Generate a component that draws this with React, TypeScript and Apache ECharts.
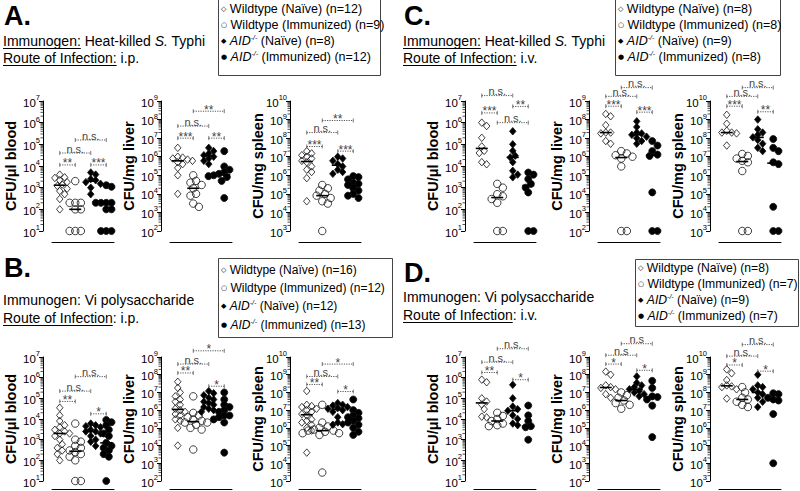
import { useEffect, useRef } from "react";
import * as echarts from "echarts";

const FONT = "'Liberation Sans', Arial, Helvetica, sans-serif";

// group order in every subplot: WT naive, WT immunized, AID-/- naive, AID-/- immunized
const groupNames = ["Wildtype (Naïve)", "Wildtype (Immunized)", "(Naïve)", "(Immunized)"];
const yNames = ["CFU/μl blood", "CFU/mg liver", "CFU/mg spleen"];
const yExpRanges = [[1, 7], [2, 9], [3, 10]];

// ---------- Panel A: heat-killed S. Typhi, i.p.
const aN = [12, 9, 8, 12];
const aBlood = [
  [4000, 3000, 2800, 2200, 1800, 1400, 1200, 900, 700, 500, 300, 100],
  [2000, 200, 200, 200, 100, 100, 10, 10, 10],
  [5000, 4000, 2500, 2200, 1800, 1500, 1000, 500],
  [1300, 1100, 200, 200, 200, 200, 200, 100, 100, 10, 10, 10],
];
const aLiver = [
  [3e6, 1e6, 9e5, 8e5, 7e5, 6e5, 6e5, 5e5, 4e5, 2.5e5, 1e5, 1e4],
  [1e5, 5e4, 4e4, 3e4, 2e4, 1e4, 8e3, 3e3, 2e3],
  [3e6, 2e6, 1.5e6, 1.2e6, 1e6, 8e5, 6e5, 4e5],
  [2e6, 3e5, 2e5, 1.5e5, 1.2e5, 1.1e5, 1e5, 1e5, 9e4, 8e4, 5e4, 6e3],
];
const aSpleen = [
  [2e7, 1.5e7, 1.2e7, 1e7, 8e6, 6e6, 5e6, 3e6, 2e6, 1.5e6, 7e5, 4e4],
  [3e5, 2e5, 1.5e5, 1e5, 8e4, 6e4, 4e4, 3e4, 1e3],
  [1e7, 8e6, 6e6, 4e6, 3e6, 2e6, 1.5e6, 1.2e6],
  [9e5, 8e5, 6e5, 4e5, 3.5e5, 3e5, 2.5e5, 2e5, 1.5e5, 1e5, 8e4, 6e4],
];
// [groupFrom, groupTo, label, log10 level]
const aBloodSig = [[0, 1, "**", 4.05], [0, 2, "n.s.", 4.6], [2, 3, "***", 4.05], [1, 3, "n.s.", 5.2]];
const aLiverSig = [[0, 1, "***", 7.0], [0, 2, "n.s.", 7.65], [2, 3, "**", 7.0], [1, 3, "**", 8.45]];
const aSpleenSig = [[0, 1, "***", 7.55], [0, 2, "n.s.", 8.3], [2, 3, "***", 7.3], [1, 3, "**", 8.95]];

// ---------- Panel B: Vi polysaccharide, i.p.
const bN = [16, 12, 12, 13];
const bBlood = [
  [3.5e4, 1.5e4, 8e3, 5e3, 4e3, 3e3, 2.5e3, 2e3, 2e3, 1.5e3, 1e3, 6e2, 4e2, 3e2, 2e2, 1e2],
  [6e3, 1e3, 8e2, 5e2, 4e2, 3e2, 2.5e2, 2e2, 1.5e2, 1e2, 10, 10],
  [6e3, 5e3, 4.5e3, 4e3, 3e3, 2.5e3, 2.5e3, 2e3, 1.5e3, 1e3, 8e2, 5e2],
  [9e3, 7e3, 5e3, 3e3, 2e3, 1.5e3, 7e2, 5e2, 4e2, 3e2, 2e2, 1.5e2, 10],
];
const bLiver = [
  [4e7, 1.8e7, 1e7, 6e6, 4e6, 3e6, 2e6, 1.2e6, 1e6, 8e5, 6e5, 5e5, 3e5, 2.5e5, 1e5, 1e4],
  [6e6, 7e5, 5e5, 4e5, 3e5, 2.5e5, 2e5, 2e5, 1.5e5, 1e5, 8e4, 6e3],
  [1.2e7, 9e6, 7e6, 5e6, 4e6, 3e6, 2.5e6, 2e6, 1.5e6, 1.2e6, 1e6, 8e5],
  [1e7, 4e6, 2e6, 1.5e6, 1e6, 8e5, 5e5, 5e5, 4.5e5, 4e5, 3e5, 2e5, 4e3],
];
const bSpleen = [
  [1.2e8, 2e7, 1.7e7, 1.5e7, 1.2e7, 1e7, 8e6, 6e6, 5e6, 3e6, 2.5e6, 2e6, 1.5e6, 1e6, 7e5, 4e4],
  [2e7, 2e6, 1.2e6, 1e6, 8e5, 7e5, 7e5, 6e5, 5e5, 5e5, 4e5, 3e3],
  [2.5e7, 2e7, 1.8e7, 1.5e7, 1.3e7, 1.2e7, 1e7, 8e6, 4e6, 2e6, 1.6e6, 1.5e6],
  [4e7, 1e7, 7e6, 5e6, 4e6, 3.5e6, 3e6, 2.5e6, 2e6, 1.5e6, 1e6, 6e5, 4e5],
];
const bBloodSig = [[0, 1, "**", 4.85], [0, 2, "n.s.", 5.35], [1, 3, "n.s.", 6.05], [2, 3, "*", 4.25]];
const bLiverSig = [[0, 1, "**", 8.1], [0, 2, "n.s.", 8.6], [1, 3, "*", 9.35], [2, 3, "*", 7.35]];
const bSpleenSig = [[0, 1, "**", 8.45], [0, 2, "n.s.", 8.9], [1, 3, "*", 9.6], [2, 3, "*", 8.05]];

// ---------- Panel C: heat-killed S. Typhi, i.v.
const cN = [8, 8, 9, 8];
const cBlood = [
  [1e6, 7e5, 2e5, 8e4, 5e4, 4e4, 1.5e4, 1.2e4],
  [1.5e3, 1e3, 5e2, 4e2, 3e2, 2e2, 10, 10],
  [4e5, 1e5, 5e4, 3e4, 2.5e4, 1.5e4, 6e3, 4e3, 3e3],
  [5e3, 4e3, 2.5e3, 1.5e3, 1e3, 6e2, 10, 10],
];
const cLiver = [
  [2e8, 1.5e8, 5e7, 2e7, 2e7, 1.8e7, 7e6, 5e6],
  [2e6, 1.5e6, 1.2e6, 1e6, 8e5, 3e5, 100, 100],
  [8e7, 4e7, 2e7, 1.8e7, 1.5e7, 1.2e7, 1e7, 7e6, 5e6],
  [7e6, 4e6, 2e6, 1.3e6, 1.1e6, 1.2e4, 100, 100],
];
const cSpleen = [
  [1.8e9, 6e8, 2.5e8, 2e8, 2e8, 1.8e8, 1.5e8, 4e7],
  [1.4e7, 1.1e7, 8e6, 6e6, 5e6, 1.7e6, 1e3, 1e3],
  [1e9, 3e8, 2e8, 1.5e8, 1.1e8, 8e7, 5e7, 3e7, 2e7],
  [9e7, 3e7, 2e7, 5e6, 4e6, 2e4, 1e3, 1e3],
];
const cBloodSig = [[0, 1, "***", 6.45], [1, 3, "n.s.", 6.0], [2, 3, "**", 6.75], [0, 2, "n.s.", 7.25]];
const cLiverSig = [[0, 1, "***", 8.72], [2, 3, "***", 8.4], [0, 2, "n.s.", 9.25], [1, 3, "n.s.", 9.72]];
const cSpleenSig = [[0, 1, "***", 9.72], [2, 3, "**", 9.42], [0, 2, "n.s.", 10.25], [1, 3, "n.s.", 10.72]];

// ---------- Panel D: Vi polysaccharide, i.v.
const dN = [8, 7, 9, 7];
const dBlood = [
  [8e5, 6e5, 1e5, 7e4, 5e4, 3e4, 1.3e4, 1.2e4],
  [2e4, 1.4e4, 1e4, 8e3, 6e3, 5e3, 4.5e3],
  [4.5e5, 1e5, 4e4, 3e4, 2.5e4, 1.5e4, 1e4, 6e3, 5e3],
  [4.5e4, 1.5e4, 8e3, 4.5e3, 4e3, 3.5e3, 1e3],
];
const dLiver = [
  [1.5e8, 1e8, 2.5e7, 2e7, 1.8e7, 1.5e7, 8e6, 5e6],
  [1e7, 7e6, 5e6, 3.5e6, 2.5e6, 2e6, 1.2e6],
  [8e7, 3.5e7, 2.5e7, 2e7, 1.5e7, 1.2e7, 1e7, 8e6, 6e6],
  [4.5e7, 1.8e7, 6e6, 5.5e6, 4e6, 1.8e6, 3e4],
];
const dSpleen = [
  [2e9, 1.2e9, 5e8, 2.5e8, 2.2e8, 2e8, 1.5e8, 4.5e7],
  [2e8, 1e8, 5e7, 4e7, 3e7, 2e7, 1.5e7],
  [1e9, 2.5e8, 2e8, 1.5e8, 1e8, 8e7, 5e7, 3e7, 1.5e7],
  [9e7, 8e7, 5e7, 4e7, 3.5e7, 6e6, 1e4],
];
const dBloodSig = [[0, 1, "**", 6.25], [0, 2, "n.s.", 6.75], [1, 3, "n.s.", 7.4], [2, 3, "*", 5.9]];
const dLiverSig = [[0, 1, "*", 8.6], [0, 2, "n.s", 9.1], [1, 3, "n.s", 9.75], [2, 3, "*", 8.25]];
const dSpleenSig = [[0, 1, "*", 9.55], [0, 2, "n.s.", 10.05], [1, 3, "n.s.", 10.7], [2, 3, "*", 9.2]];

// ---------- layout (positions / styles)
const AXIS_GAP = 9;
const PLOT_W = 62;
const LEFT_AXES = [43, 161, 290];
const RIGHT_AXES = [465, 589, 710];

const panels: any[] = [
  {
    letter: "A.", imm: "hk", route: "i.p.", n: aN, data: [aBlood, aLiver, aSpleen], sig: [aBloodSig, aLiverSig, aSpleenSig],
    L: { hx: 3, letterY: 16, immY: 41, routeY: 58, routeColon: true, legend: [218, -2, 162, 77], rows: [9, 25, 41, 57], lfs: 12.5, rowTop: 101, rowBottom: 231, xOff: 11, axes: LEFT_AXES },
  },
  {
    letter: "C.", imm: "hk", route: "i.v.", n: cN, data: [cBlood, cLiver, cSpleen], sig: [cBloodSig, cLiverSig, cSpleenSig],
    L: { hx: 403, letterY: 16, immY: 41, routeY: 58, routeColon: true, legend: [615, -2, 165, 77], rows: [9, 25, 41, 57], lfs: 12.5, rowTop: 101, rowBottom: 231, xOff: 11, axes: RIGHT_AXES },
  },
  {
    letter: "B.", imm: "vi", route: "i.p.", n: bN, data: [bBlood, bLiver, bSpleen], sig: [bBloodSig, bLiverSig, bSpleenSig],
    L: { hx: 3, letterY: 268, immY: 300, routeY: 318, routeColon: false, legend: [218, 258, 174, 79], rows: [270, 288, 306, 325], lfs: 12, rowTop: 357, rowBottom: 481, xOff: 8, axes: LEFT_AXES },
  },
  {
    letter: "D.", imm: "vi", route: "i.v.", n: dN, data: [dBlood, dLiver, dSpleen], sig: [dBloodSig, dLiverSig, dSpleenSig],
    L: { hx: 403, letterY: 273, immY: 297, routeY: 315, routeColon: false, legend: [635, 259, 163, 67], rows: [268, 284, 300, 316], lfs: 12.2, rowTop: 357, rowBottom: 481, xOff: 8, axes: RIGHT_AXES },
  },
];

const SYM = [
  { symbol: "diamond", size: [6.5, 7.5], fill: "rgba(0,0,0,0)" },
  { symbol: "circle", size: 7.5, fill: "rgba(0,0,0,0)" },
  { symbol: "diamond", size: [6.5, 7.5], fill: "#000" },
  { symbol: "circle", size: 7, fill: "#000" },
];

let measureCtx: CanvasRenderingContext2D | null = null;
function textWidth(text: string, font: string) {
  if (!measureCtx) measureCtx = document.createElement("canvas").getContext("2d");
  measureCtx!.font = font;
  return measureCtx!.measureText(text).width;
}

function median(v: number[]) {
  const s = [...v].sort((a, b) => a - b);
  const m = Math.floor(s.length / 2);
  return s.length % 2 ? s[m] : (s[m - 1] + s[m]) / 2;
}

// beeswarm-like horizontal spreading of points (in pixels, converted back to data units)
function swarm(values: number[], center: number, pxPerX: number, pxPerDec: number, sym: number) {
  const pts = values.map((v) => ({ v, y: Math.log10(v) * pxPerDec })).sort((a, b) => b.v - a.v);
  const placed: { x: number; y: number }[] = [];
  const out: number[][] = [];
  const step = sym * 0.35;
  const minD = sym * 0.7;
  for (const p of pts) {
    let chosen = 0;
    for (let k = 0; k < 20; k++) {
      const off = k === 0 ? 0 : (k % 2 ? 1 : -1) * Math.ceil(k / 2) * step;
      if (placed.every((q) => Math.hypot(q.x - off, q.y - p.y) >= minD)) {
        chosen = off;
        break;
      }
    }
    placed.push({ x: chosen, y: p.y });
    out.push([center + chosen / pxPerX, p.v]);
  }
  return out;
}

function buildOption() {
  const grid: any[] = [];
  const xAxis: any[] = [];
  const yAxis: any[] = [];
  const series: any[] = [];
  const graphic: any[] = [];
  let gi = 0;

  panels.forEach((p) => {
    const L = p.L;
    for (let k = 0; k < 3; k++) {
      const ax = L.axes[k];
      const left = ax + AXIS_GAP;
      const height = L.rowBottom - L.rowTop;
      const [e0, e1] = yExpRanges[k];
      grid.push({ left, top: L.rowTop, width: PLOT_W, height, containLabel: false, outerBoundsMode: "none" });
      xAxis.push({
        type: "value", gridIndex: gi, min: 0, max: 4, offset: L.xOff,
        axisLine: { show: true, onZero: false, lineStyle: { color: "#000", width: 1 } },
        axisTick: { show: false }, axisLabel: { show: false }, splitLine: { show: false },
      });
      yAxis.push({
        type: "log", logBase: 10, gridIndex: gi, min: Math.pow(10, e0), max: Math.pow(10, e1), offset: AXIS_GAP,
        axisLine: { show: true, onZero: false, lineStyle: { color: "#000", width: 1 } },
        axisTick: { show: true, length: 4, lineStyle: { color: "#000", width: 1 } },
        splitLine: { show: false },
        axisLabel: {
          show: true, margin: 3, showMinLabel: true, showMaxLabel: true, color: "#000",
          formatter: (v: number) => `{b|10}{s|${Math.round(Math.log10(v))}}`,
          rich: {
            b: { fontSize: 11.5, fontFamily: FONT, color: "#000", lineHeight: 15, verticalAlign: "bottom" },
            s: { fontSize: 7.5, fontFamily: FONT, color: "#000", lineHeight: 9, verticalAlign: "top" },
          },
        },
        name: yNames[k], nameLocation: "middle", nameGap: 25, nameMoveOverlap: false,
        nameTextStyle: { fontSize: 14.5, fontWeight: "bold", fontFamily: FONT, color: "#000" },
      });
      const pxPerX = PLOT_W / 4;
      const pxPerDec = height / (e1 - e0);
      const groups: number[][] = p.data[k];
      groups.forEach((vals, g) => {
        const sz = SYM[g].size;
        const symPx = Array.isArray(sz) ? sz[0] : sz;
        series.push({
          type: "scatter", name: groupNames[g], xAxisIndex: gi, yAxisIndex: gi, silent: true, z: 3,
          data: swarm(vals, g + 0.5, pxPerX, pxPerDec, symPx + 0.5),
          symbol: SYM[g].symbol, symbolSize: sz,
          itemStyle: { color: SYM[g].fill, borderColor: "#111", borderWidth: 0.8, opacity: 1 },
          emphasis: { disabled: true },
        });
      });
      // medians
      series.push({
        type: "custom", xAxisIndex: gi, yAxisIndex: gi, silent: true, clip: false, z: 4,
        data: groups.map((v, g) => [g + 0.5, median(v)]), encode: { x: 0, y: 1 },
        renderItem: (_: any, api: any) => {
          const c = api.coord([api.value(0), api.value(1)]);
          return { type: "line", shape: { x1: c[0] - 6, y1: c[1], x2: c[0] + 6, y2: c[1] }, style: { stroke: "#000", lineWidth: 1.6 } };
        },
      });
      // significance brackets
      const sig: any[] = p.sig[k];
      series.push({
        type: "custom", xAxisIndex: gi, yAxisIndex: gi, silent: true, clip: false, z: 5,
        data: sig.map((s) => [s[0] + 0.5, s[1] + 0.5, Math.pow(10, s[3])]), encode: { x: [0, 1], y: 2 },
        renderItem: (params: any, api: any) => {
          const s = sig[params.dataIndex];
          const yv = api.value(2);
          const a = api.coord([api.value(0), yv]);
          const b = api.coord([api.value(1), yv]);
          const col = "#555";
          const star = String(s[2]).startsWith("*");
          return {
            type: "group",
            children: [
              { type: "line", shape: { x1: a[0], y1: a[1], x2: b[0], y2: b[1] }, style: { stroke: col, lineWidth: 1, lineDash: [1.2, 1.2] } },
              { type: "line", shape: { x1: a[0], y1: a[1] - 2, x2: a[0], y2: a[1] + 2 }, style: { stroke: col, lineWidth: 0.8 } },
              { type: "line", shape: { x1: b[0], y1: b[1] - 2, x2: b[0], y2: b[1] + 2 }, style: { stroke: col, lineWidth: 0.8 } },
              {
                type: "text", x: (a[0] + b[0]) / 2, y: a[1] + (star ? 4.5 : 1),
                style: { text: s[2], fontSize: star ? 12 : 11, fontFamily: FONT, fill: "#444", align: "center", verticalAlign: "bottom" },
              },
            ],
          };
        },
      });
      // minor (log) ticks on the y axis
      const minors: number[][] = [];
      for (let e = e0; e < e1; e++) for (let m = 2; m <= 9; m++) minors.push([0, m * Math.pow(10, e)]);
      series.push({
        type: "custom", xAxisIndex: gi, yAxisIndex: gi, silent: true, clip: false, z: 2,
        data: minors, encode: { x: 0, y: 1 },
        renderItem: (_: any, api: any) => {
          const c = api.coord([0, api.value(1)]);
          const x = c[0] - AXIS_GAP;
          return { type: "line", shape: { x1: x - 2.5, y1: c[1], x2: x, y2: c[1] }, style: { stroke: "#000", lineWidth: 0.7 } };
        },
      });
      gi++;
    }

    // ---- header
    const FS = 14;
    const f = `${FS}px ${FONT}`;
    graphic.push({ type: "text", x: L.hx + 1, y: L.letterY, style: { text: p.letter, fontSize: 27, fontWeight: "bold", fontFamily: FONT, fill: "#000", verticalAlign: "middle" } });
    const immText = p.imm === "hk" ? "Immunogen: Heat-killed {i|S.} Typhi" : "Immunogen: Vi polysaccharide";
    graphic.push({
      type: "text", x: L.hx, y: L.immY,
      style: {
        text: immText, fontSize: FS, fontFamily: FONT, fill: "#000", verticalAlign: "middle", lineHeight: 16,
        rich: { i: { fontSize: FS, fontFamily: FONT, fontStyle: "italic", fill: "#000", lineHeight: 16 } },
      },
    });
    if (p.imm === "hk") {
      const w = textWidth("Immunogen:", f);
      graphic.push({ type: "line", shape: { x1: L.hx, y1: L.immY + 7.5, x2: L.hx + w, y2: L.immY + 7.5 }, style: { stroke: "#000", lineWidth: 1 } });
    }
    graphic.push({ type: "text", x: L.hx, y: L.routeY, style: { text: `Route of Infection: ${p.route}`, fontSize: FS, fontFamily: FONT, fill: "#000", verticalAlign: "middle" } });
    {
      const w = textWidth(L.routeColon ? "Route of Infection:" : "Route of Infection", f);
      graphic.push({ type: "line", shape: { x1: L.hx, y1: L.routeY + 7.5, x2: L.hx + w, y2: L.routeY + 7.5 }, style: { stroke: "#000", lineWidth: 1 } });
    }

    // ---- legend box
    const [lx, ly, lw, lh] = L.legend;
    const lfs = L.lfs;
    graphic.push({ type: "rect", shape: { x: lx + 0.5, y: ly + 0.5, width: lw, height: lh }, style: { fill: "#fff", stroke: "#444", lineWidth: 1 } });
    const marks = ["◇", "○", "◆", "●"];
    const rows = [
      `{m|${marks[0]}} ${groupNames[0]} (n=${p.n[0]})`,
      `{m|${marks[1]}} ${groupNames[1]} (n=${p.n[1]})`,
      `{m|${marks[2]}} {i|AID}{s|-/-} ${groupNames[2]} (n=${p.n[2]})`,
      `{m|${marks[3]}} {i|AID}{s|-/-} ${groupNames[3]} (n=${p.n[3]})`,
    ];
    rows.forEach((t, r) => {
      graphic.push({
        type: "text", x: lx + 3, y: L.rows[r],
        style: {
          text: t, fontSize: lfs, fontFamily: FONT, fill: "#000", verticalAlign: "middle", lineHeight: 15,
          rich: {
            m: { fontSize: 7, fontFamily: "'DejaVu Sans'", fill: "#000", lineHeight: 15 },
            i: { fontSize: lfs, fontFamily: FONT, fontStyle: "italic", fill: "#000", lineHeight: 15 },
            s: { fontSize: 7, fontFamily: FONT, fontStyle: "italic", fill: "#000", lineHeight: 9, verticalAlign: "top" },
          },
        },
      });
    });
  });

  return { animation: false, backgroundColor: "#fff", grid, xAxis, yAxis, series, graphic };
}

export default function App() {
  const ref = useRef<HTMLDivElement>(null);
  useEffect(() => {
    const chart = echarts.init(ref.current!, null, { renderer: "svg" });
    chart.setOption(buildOption() as any);
    return () => chart.dispose();
  }, []);
  return <div ref={ref} style={{ position: "absolute", left: 0, top: 0, width: 800, height: 491, background: "#fff" }} />;
}
